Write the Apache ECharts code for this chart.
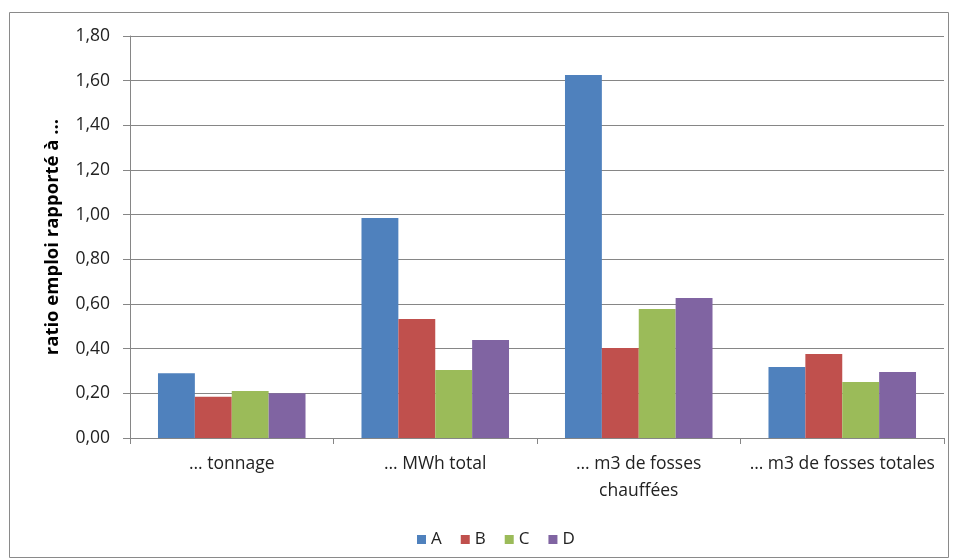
<!DOCTYPE html>
<html>
<head>
<meta charset="utf-8">
<script src="https://cdn.jsdelivr.net/npm/echarts@6/dist/echarts.min.js"></script>
<style>
  html, body { margin: 0; padding: 0; background: #fff; }
  #chart { width: 953px; height: 560px; }
</style>
</head>
<body>
<div id="chart"></div>
<script>
// Employment ratios per unit, four sites A–D
const categories = ['… tonnage', '… MWh total', '… m3 de fosses\nchauffées', '… m3 de fosses totales'];
const seriesNames = ['A', 'B', 'C', 'D'];
const valuesA = [0.29, 0.985, 1.625, 0.318];
const valuesB = [0.185, 0.533, 0.403, 0.376];
const valuesC = [0.21, 0.305, 0.578, 0.251];
const valuesD = [0.20, 0.439, 0.627, 0.296];
const yTicks = [0, 0.2, 0.4, 0.6, 0.8, 1.0, 1.2, 1.4, 1.6, 1.8];
const colors = ['#4F81BD', '#C0504D', '#9BBB59', '#8064A2'];

const fontFamily = 'Open Sans, Noto Sans, sans-serif';
const allValues = [valuesA, valuesB, valuesC, valuesD];

const chart = echarts.init(document.getElementById('chart'), null, { renderer: 'canvas' });
chart.setOption({
  animation: false,
  backgroundColor: '#fff',
  graphic: [{
    type: 'rect',
    shape: { x: 9.5, y: 12.5, width: 939, height: 545 },
    style: { fill: 'none', stroke: '#8a8a8a', lineWidth: 1 },
    silent: true
  }],
  grid: { left: 130, right: 9, top: 36, bottom: 122, containLabel: false },
  legend: {
    data: seriesNames,
    bottom: 7,
    left: 412,
    itemWidth: 9,
    itemHeight: 9,
    itemGap: 19,
    icon: 'rect',
    textStyle: { fontFamily, fontSize: 17, color: '#222', padding: [0, 0, 0, 0] }
  },
  xAxis: {
    type: 'category',
    data: categories,
    axisLine: { lineStyle: { color: '#868686', width: 1 } },
    axisTick: { show: true, length: 6, alignWithLabel: false, lineStyle: { color: '#868686' } },
    axisLabel: { fontFamily, fontSize: 17.5, color: '#222', margin: 13, lineHeight: 27, interval: 0 }
  },
  yAxis: {
    type: 'value',
    min: 0,
    max: 1.8,
    interval: 0.2,
    name: 'ratio emploi rapporté à …',
    nameLocation: 'middle',
    nameGap: 68,
    nameTextStyle: { fontFamily, fontSize: 18.5, fontWeight: 'bold', color: '#000' },
    axisLine: { show: true, lineStyle: { color: '#868686' } },
    axisTick: { show: true, length: 7, lineStyle: { color: '#868686' } },
    splitLine: { lineStyle: { color: '#868686', width: 1 } },
    axisLabel: {
      fontFamily, fontSize: 17.5, color: '#222', margin: 20,
      formatter: v => {
        const t = yTicks.find(x => Math.abs(x - v) < 1e-9);
        return (t !== undefined ? t : v).toFixed(2).replace('.', ',');
      }
    }
  },
  series: seriesNames.map((name, i) => ({
    name,
    type: 'bar',
    data: allValues[i],
    barGap: '0%',
    barCategoryGap: '27.5%',
    itemStyle: { color: colors[i] }
  }))
});
</script>
</body>
</html>
